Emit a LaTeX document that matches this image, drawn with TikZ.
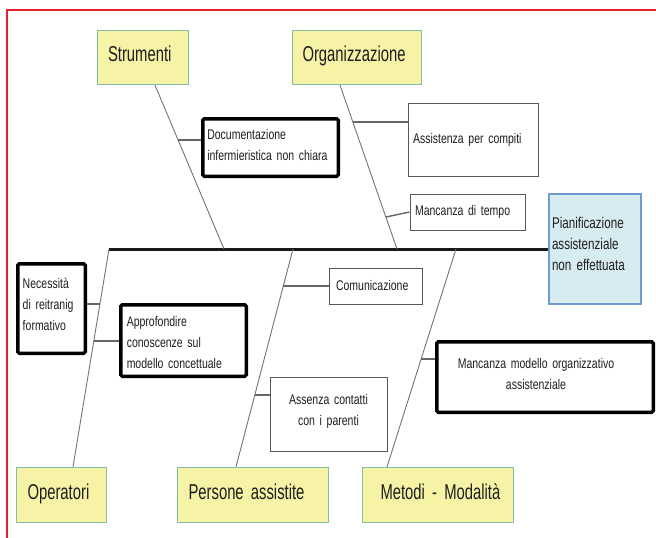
\documentclass[tikz,border=0pt]{standalone}
\usepackage{fontspec}
\setmainfont{Liberation Sans}[FakeStretch=0.75]
\newfontfamily\fbtitlefam{Liberation Sans}[FakeStretch=0.69]
\usetikzlibrary{calc}
\definecolor{titlefill}{RGB}{246,242,166}
\definecolor{titleborder}{RGB}{128,192,160}
\definecolor{pianfill}{RGB}{214,236,240}
\definecolor{pianborder}{RGB}{110,155,208}
\definecolor{frame}{RGB}{232,32,42}
\definecolor{txt}{RGB}{30,30,30}
\newcommand\fbtitle{\fbtitlefam\fontsize{21.5}{25}\selectfont\spaceskip=3.6pt plus 1pt minus 0.5pt\relax}
\newcommand\fbsmall{\fontsize{14}{21}\selectfont\spaceskip=2.8pt plus 1pt minus 0.5pt\relax}
\newcommand\fbpian{\fontsize{15.5}{21}\selectfont\spaceskip=3.1pt plus 1pt minus 0.5pt\relax}
\newcommand\fbdn[1]{\rule[-#1]{0pt}{#1}}
\newcommand\fbts{\rule[-8pt]{0pt}{24pt}}
\tikzset{
  titlebox/.style={draw=titleborder, fill=titlefill, line width=1.3pt, font=\fbtitle,
    text=txt, align=left, minimum height=54pt, inner ysep=0pt},
  thinbox/.style={draw=black!65, line width=1pt, fill=white, font=\fbsmall, text=txt,
    inner ysep=0pt},
  thickbox/.style={draw=black, line width=3.5pt, rounded corners=1.5pt, fill=white,
    font=\fbsmall, text=txt, inner ysep=0pt},
  bone/.style={draw=black!55, line width=0.9pt},
  conn/.style={draw=black!60, line width=1.4pt},
  spine/.style={draw=black!90, line width=3pt},
}
\begin{document}
\begin{tikzpicture}[x=1pt, y=-1pt]
\useasboundingbox (0,0) rectangle (656,538);
% frame
\draw[frame, line width=2.4pt] (7,538) -- (7,10) -- (656,10);

% title boxes
\node[titlebox, minimum width=91pt, text width=70pt, inner xsep=10.5pt] (str) at (143,57.5) {\fbts\mbox{Strumenti}};
\node[titlebox, minimum width=129pt, text width=109pt, inner xsep=10pt] (org) at (357,57.5) {\fbts\mbox{Organizzazione}};
\node[titlebox, minimum width=90pt, text width=68pt, inner xsep=11pt, minimum height=55pt] (ope) at (61.5,495) {\fbts\mbox{Operatori}};
\node[titlebox, minimum width=151pt, text width=129pt, inner xsep=11pt, minimum height=55pt] (per) at (253,495) {\fbts\mbox{Persone assistite}};
\node[titlebox, minimum width=151pt, text width=115pt, inner xsep=18pt, minimum height=55pt] (met) at (438,495) {\fbts\mbox{Metodi - Modalità}};

% effect
\node[draw=pianborder, fill=pianfill, line width=1.3pt, font=\fbpian, text=txt,
  align=left, minimum width=92pt, minimum height=110pt, text width=86pt,
  inner xsep=3pt, inner ysep=0pt] (pian) at (595,249)
  {Pianificazione\\assistenziale\\non effettuata\fbdn{10pt}};

% cause boxes
\node[thickbox, minimum width=135.5pt, minimum height=57.5pt, text width=126.5pt,
  inner xsep=4.5pt, align=left] (doc) at (270.5,147.5)
  {Documentazione\\infermieristica non chiara\fbdn{6pt}};
\node[thinbox, minimum width=130pt, minimum height=73pt, text width=120pt,
  inner xsep=5pt, align=left] (asp) at (473,139.5)
  {Assistenza per compiti\fbdn{3pt}};
\node[thinbox, minimum width=115pt, minimum height=36pt, text width=105pt,
  inner xsep=5pt, align=left] (mdt) at (467.5,212)
  {Mancanza di tempo\fbdn{4pt}};
\node[thickbox, minimum width=67.5pt, minimum height=89.5pt, text width=57.5pt,
  inner xsep=5pt, align=left] (nec) at (51.5,308.5)
  {Necessità\\di reitranig\\formativo\fbdn{8pt}};
\node[thickbox, minimum width=125.5pt, minimum height=71.5pt, text width=113.5pt,
  inner xsep=6pt, align=left] (app) at (183.5,340.5)
  {\rule{0pt}{13.5pt}Approfondire\\conoscenze sul\\modello concettuale};
\node[thinbox, minimum width=93pt, minimum height=36pt, text width=79pt,
  inner xsep=7pt, align=left] (com) at (375.5,286)
  {Comunicazione\fbdn{2pt}};
\node[thinbox, minimum width=117pt, minimum height=74pt, text width=105pt,
  inner xsep=6pt, align=center] (ass) at (328.5,414)
  {Assenza contatti\\con i parenti\fbdn{9pt}};
\node[thickbox, minimum width=216.5pt, minimum height=70.5pt, text width=200pt,
  inner xsep=8.25pt, align=center] (mmo) at (545,377)
  {\hspace*{-18pt}Mancanza modello organizzativo\\\hspace*{-18pt}assistenziale\fbdn{7pt}};

% spine and bones
\coordinate (spL) at (109,249);
\coordinate (sS) at (224,249);
\coordinate (sO) at (397,249);
\coordinate (sP) at (293,249);
\coordinate (sM) at (456,249);
\draw[spine] (spL) -- (pian.west);
\draw[bone] ([xshift=12pt]str.south) -- (sS);
\draw[bone] ([xshift=-17pt]org.south) -- (sO);
\draw[bone] (spL) -- ([xshift=11.5pt]ope.north);
\draw[bone] (sP) -- ([xshift=-17pt]per.north);
\draw[bone] (sM) -- ([xshift=-51pt]met.north);

% connectors
\coordinate (k1) at (178,140);
\coordinate (k2) at (353,122);
\coordinate (k3) at (386,217);
\coordinate (k4) at (100,304);
\coordinate (k5) at (93.8,341);
\coordinate (k6) at (283.3,286);
\coordinate (k7) at (255,395);
\coordinate (k8) at (421.2,359);
\draw[conn] (k1) -- (k1 -| doc.west);
\draw[conn] (k2) -- (k2 -| asp.west);
\draw[conn] (k3) -- (mdt.west);
\draw[conn] (k4) -- (k4 -| nec.east);
\draw[conn] (k5) -- (k5 -| app.west);
\draw[conn] (k6) -- (k6 -| com.west);
\draw[conn] (k7) -- (k7 -| ass.west);
\draw[conn] (k8) -- (k8 -| mmo.west);
\end{tikzpicture}
\end{document}
